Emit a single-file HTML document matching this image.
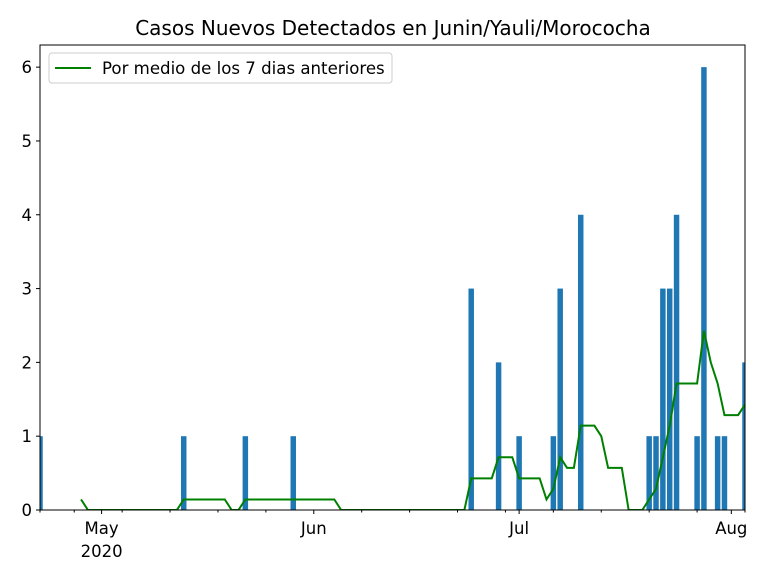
<!DOCTYPE html>
<html><head><meta charset="utf-8"><style>
body{margin:0;background:#fff;}
svg text{font-family:"DejaVu Sans","Liberation Sans",sans-serif;fill:#000;}
</style></head><body>
<svg id="chart" width="768" height="576" xmlns="http://www.w3.org/2000/svg">
<rect width="768" height="576" fill="#fff"/>
<text x="393" y="35" font-size="20" text-anchor="middle">Casos Nuevos Detectados en Junin/Yauli/Morococha</text>
<defs><clipPath id="pc"><rect x="40" y="45" width="705" height="465"/></clipPath></defs>
<g id="bars" clip-path="url(#pc)"></g>
<polyline id="line" fill="none" stroke="#008000" stroke-width="2" clip-path="url(#pc)"/>
<g id="axes"></g>
<rect x="40" y="45" width="705" height="465" fill="none" stroke="#000" stroke-width="1"/>
<g>
<rect x="49" y="53" width="343" height="30" rx="3" fill="#fff" stroke="#ccc"/>
<line x1="55" y1="68" x2="91" y2="68" stroke="#008000" stroke-width="2"/>
<text x="102" y="74" font-size="16.6">Por medio de los 7 dias anteriores</text>
</g>
</svg>
<script>
// day offsets relative to May 1 2020 and case counts
const caseDays = [-9, 12, 21, 28, 54, 58, 61, 66, 67, 70, 80, 81, 82, 83, 84, 87, 88, 90, 91, 94];
const caseCounts = [1, 1, 1, 1, 3, 2, 1, 1, 3, 4, 1, 1, 3, 3, 4, 1, 6, 1, 1, 2];
const yTicks = [0, 1, 2, 3, 4, 5, 6];
const xMajorDays = [0, 31, 61, 92];
const xMajorLabels = ["May", "Jun", "Jul", "Aug"];
const xMinorDays = [-9, -4, 3, 10, 17, 24, 38, 45, 52, 59, 66, 73, 80, 87, 94];

const X0=40, X1=745, Y0=510, Y1=45, DMIN=-9, DMAX=94, VMAX=6.3;
const xs = d => X0 + (d - DMIN) / (DMAX - DMIN) * (X1 - X0);
const ys = v => Y0 - v / VMAX * (Y0 - Y1);
const NS = "http://www.w3.org/2000/svg";
function mk(tag, attrs, parent){const e=document.createElementNS(NS,tag);for(const k in attrs)e.setAttribute(k,attrs[k]);parent.appendChild(e);return e;}

const bars = document.getElementById('bars');
const bw = 0.8 * (X1 - X0) / (DMAX - DMIN);
caseDays.forEach((d,i)=>{
  const r = mk('rect',{x:xs(d)-bw/2,y:ys(caseCounts[i]),width:bw,height:Y0-ys(caseCounts[i]),fill:'#1f77b4'},bars);
  
  
});

// 7-day rolling mean (current + previous 6 days)
const daily = {};
caseDays.forEach((d,i)=>{daily[d]=(daily[d]||0)+caseCounts[i];});
const pts=[];
for(let d=DMIN+6; d<=DMAX; d++){
  let s=0; for(let k=d-6;k<=d;k++) s+=(daily[k]||0);
  pts.push(xs(d).toFixed(2)+','+ys(s/7).toFixed(2));
}
document.getElementById('line').setAttribute('points',pts.join(' '));

const ax = document.getElementById('axes');
yTicks.forEach(v=>{
  mk('line',{x1:X0-4,x2:X0,y1:ys(v),y2:ys(v),stroke:'#000'},ax);
  const t=mk('text',{x:X0-8,y:ys(v)+6,'font-size':'16.5','text-anchor':'end'},ax);
  t.textContent=v;
  
  
});
xMinorDays.forEach(d=>{ mk('line',{x1:xs(d),x2:xs(d),y1:Y0,y2:Y0+2.5,stroke:'#000'},ax); });
xMajorDays.forEach((d,i)=>{
  mk('line',{x1:xs(d),x2:xs(d),y1:Y0,y2:Y0+4,stroke:'#000'},ax);
  const t=mk('text',{x:xs(d),y:Y0+24,'font-size':'16.5','text-anchor':'middle'},ax);
  t.textContent=xMajorLabels[i];
  
  
});
const yr=mk('text',{x:xs(0),y:Y0+47,'font-size':'16.5','text-anchor':'middle'},ax);
yr.textContent='2020';


</script>
</body></html>
